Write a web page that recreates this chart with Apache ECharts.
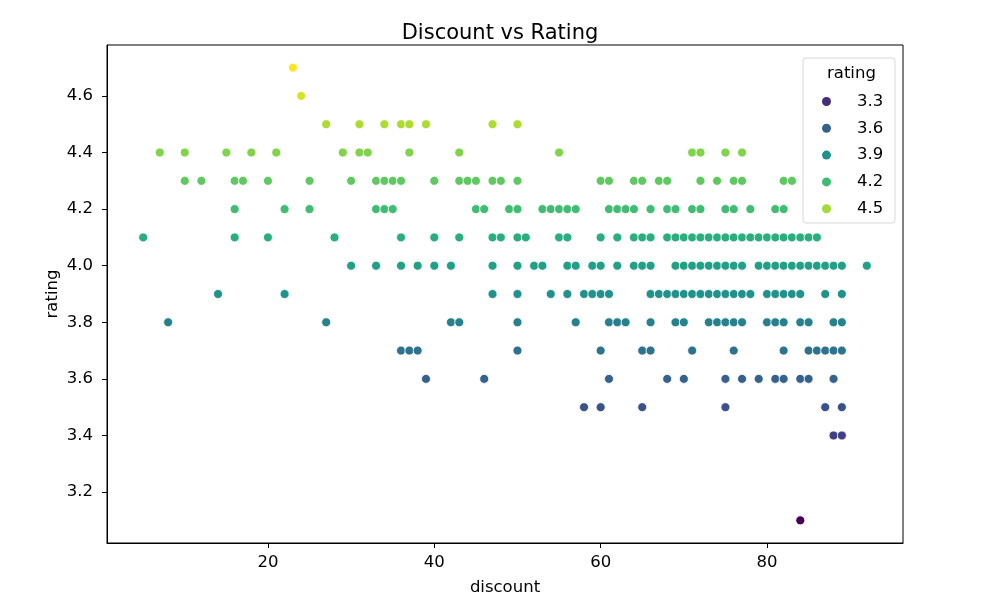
<!DOCTYPE html>
<html>
<head>
<meta charset="utf-8">
<script src="https://cdn.jsdelivr.net/npm/echarts@6/dist/echarts.min.js"></script>
<style>
  html, body { margin: 0; padding: 0; background: #fff; }
  #chart { width: 1000px; height: 612px; }
</style>
</head>
<body>
<div id="chart"></div>
<script>
// discounts seen at each rating level
var r47 = [23];
var r46 = [24];
var r45 = [27, 31, 34, 36, 37, 39, 47, 50];
var r44 = [7, 10, 15, 18, 21, 29, 31, 32, 37, 43, 55, 71, 72, 75, 77];
var r43 = [10, 12, 16, 17, 20, 25, 30, 33, 34, 35, 36, 40, 43, 44, 45, 47, 48, 50, 60, 61, 64, 65, 67, 68, 72, 74, 76, 77, 82, 83];
var r42 = [16, 22, 25, 33, 34, 35, 45, 46, 49, 50, 53, 54, 55, 56, 57, 61, 62, 63, 64, 66, 68, 69, 71, 72, 75, 76, 78, 81, 82];
var r41 = [5, 16, 20, 28, 36, 40, 43, 47, 48, 50, 51, 55, 56, 60, 62, 64, 65, 66, 68, 69, 70, 71, 72, 73, 74, 75, 76, 77, 78, 79, 80, 81, 82, 83, 84, 85, 86];
var r40 = [30, 33, 36, 38, 40, 42, 47, 50, 52, 53, 56, 57, 59, 60, 62, 64, 65, 66, 69, 70, 71, 72, 73, 74, 75, 76, 77, 79, 80, 81, 82, 83, 84, 85, 86, 87, 88, 89, 92];
var r39 = [14, 22, 47, 50, 54, 56, 58, 59, 60, 61, 66, 67, 68, 69, 70, 71, 72, 73, 74, 75, 76, 77, 78, 80, 81, 82, 83, 84, 87, 89];
var r38 = [8, 27, 42, 43, 50, 57, 61, 62, 63, 66, 69, 70, 73, 74, 75, 76, 77, 80, 81, 82, 84, 85, 88, 89];
var r37 = [36, 37, 38, 50, 60, 65, 66, 71, 76, 82, 85, 86, 87, 88, 89];
var r36 = [39, 46, 61, 68, 70, 75, 77, 79, 81, 82, 84, 85, 88];
var r35 = [58, 60, 65, 75, 87, 89];
var r34 = [88, 89];
var r31 = [84];

var ratingLevels = [4.7, 4.6, 4.5, 4.4, 4.3, 4.2, 4.1, 4.0, 3.9, 3.8, 3.7, 3.6, 3.5, 3.4, 3.1];
var discountRows = [r47, r46, r45, r44, r43, r42, r41, r40, r39, r38, r37, r36, r35, r34, r31];

var legendNames = ['3.3', '3.6', '3.9', '4.2', '4.5'];
var legendColors = ['#472c7a', '#33638d', '#21918c', '#3dbc74', '#a2da37'];
var xTicks = [20, 40, 60, 80];
var yTicks = [3.2, 3.4, 3.6, 3.8, 4.0, 4.2, 4.4, 4.6];

var viridis = ['#440154', '#482475', '#414487', '#355f8d', '#2a788e', '#21918c',
               '#22a884', '#44bf70', '#7ad151', '#bddf26', '#fde725'];

var points = [];
for (var i = 0; i < ratingLevels.length; i++) {
  for (var j = 0; j < discountRows[i].length; j++) {
    points.push([discountRows[i][j], ratingLevels[i]]);
  }
}

var font = 'DejaVu Sans';
var fs = 16.5;
var myChart = echarts.init(document.getElementById('chart'));

var series = [{
  name: 'points',
  type: 'scatter',
  symbolSize: 9,
  itemStyle: { borderColor: '#fff', borderWidth: 0.8, opacity: 1 },
  data: points,
  z: 3
}];
for (var k = 0; k < legendNames.length; k++) {
  series.push({
    name: legendNames[k],
    type: 'scatter',
    itemStyle: { color: legendColors[k], opacity: 1 },
    data: []
  });
}

option = {
  animation: false,
  backgroundColor: '#fff',
  title: [{
    text: 'Discount vs Rating',
    left: 'center',
    top: 18,
    textStyle: { fontFamily: font, fontSize: 21, fontWeight: 'normal', color: '#000' }
  }, {
    text: 'rating',
    left: 822,
    top: 60,
    z: 20,
    textStyle: { fontFamily: font, fontSize: fs, fontWeight: 'normal', color: '#000' }
  }],
  graphic: [{
    type: 'rect',
    z: 1,
    shape: { x: 803, y: 58, width: 92, height: 165, r: 3 },
    style: { fill: '#fff', stroke: '#d8d8d8', lineWidth: 1 }
  }],
  legend: {
    orient: 'vertical',
    left: 817,
    top: 88,
    itemGap: 9.8,
    itemWidth: 9,
    itemHeight: 9,
    icon: 'circle',
    data: legendNames,
    selectedMode: false,
    z: 20,
    textStyle: { fontFamily: font, fontSize: fs, color: '#000', padding: [0, 0, 0, 21] }
  },
  visualMap: {
    type: 'continuous',
    show: false,
    min: 3.1,
    max: 4.7,
    dimension: 1,
    seriesIndex: 0,
    inRange: { color: viridis }
  },
  grid: {
    left: 107, right: 97, top: 45, bottom: 69,
    show: true, borderColor: '#000', borderWidth: 1
  },
  xAxis: {
    type: 'value',
    min: 0.65,
    max: 96.35,
    name: 'discount',
    nameLocation: 'middle',
    nameGap: 36,
    nameTextStyle: { fontFamily: font, fontSize: fs, color: '#000' },
    axisLine: { show: true, onZero: false, lineStyle: { color: '#000', width: 1 } },
    axisTick: { show: true, length: 5, customValues: xTicks, lineStyle: { color: '#000' } },
    axisLabel: { customValues: xTicks, fontFamily: font, fontSize: fs, color: '#000', margin: 11 },
    splitLine: { show: false }
  },
  yAxis: {
    type: 'value',
    min: 3.02,
    max: 4.78,
    name: 'rating',
    nameLocation: 'middle',
    nameGap: 46,
    nameMoveOverlap: false,
    nameTextStyle: { fontFamily: font, fontSize: fs, color: '#000' },
    axisLine: { show: true, onZero: false, lineStyle: { color: '#000', width: 1 } },
    axisTick: { show: true, length: 5, customValues: yTicks, lineStyle: { color: '#000' } },
    axisLabel: {
      customValues: yTicks, fontFamily: font, fontSize: fs, color: '#000', margin: 14,
      formatter: function (v) { return v.toFixed(1); }
    },
    splitLine: { show: false }
  },
  series: series
};

if (option && typeof option === 'object') {
  myChart.setOption(option, true);
}
</script>
</body>
</html>
